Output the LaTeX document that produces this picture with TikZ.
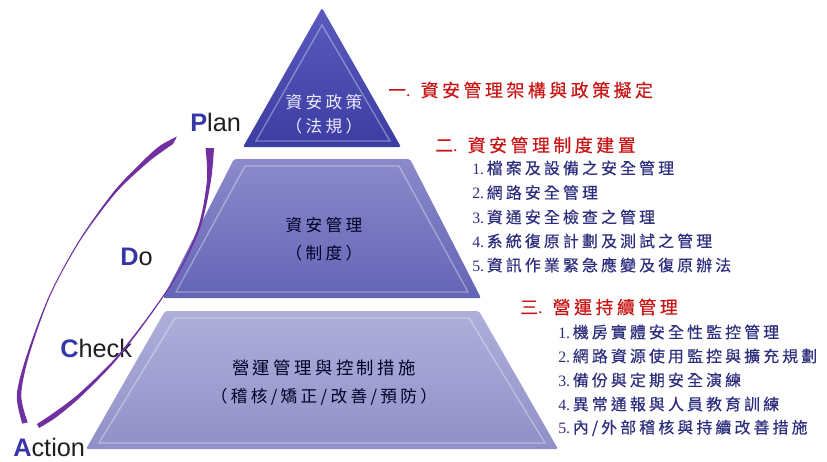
\documentclass[tikz,border=0pt]{standalone}
\usepackage{fontspec}
\setmainfont{Liberation Serif}
\setsansfont{Liberation Sans}
\newfontfamily\cjk{Noto Sans CJK TC}[LetterSpace=20]
\newfontfamily\cjkb{Noto Sans CJK TC}[LetterSpace=20,FakeBold=0.5]
\definecolor{topA}{HTML}{5A5ABF}
\definecolor{topB}{HTML}{3C3CA2}
\definecolor{midA}{HTML}{8A8ACB}
\definecolor{midB}{HTML}{6464B6}
\definecolor{botA}{HTML}{AFAFDB}
\definecolor{botB}{HTML}{9090C8}
\definecolor{pblue}{HTML}{3636A6}
\definecolor{hred}{HTML}{C81414}
\definecolor{inavy}{HTML}{2E2E7E}
\definecolor{arc}{HTML}{7030A0}
\tikzset{
  pyrtxt/.style={inner sep=0pt, align=center, font=\fontsize{12.5}{15}\cjk},
  head/.style={anchor=west, inner sep=0pt, text=hred, font=\fontsize{13.4}{16}\cjkb},
  item/.style={anchor=west, inner sep=0pt, text=inavy, font=\fontsize{11.9}{14}\cjkb},
  pdca/.style={anchor=base west, inner sep=0pt, text=black!88, font=\sffamily\fontsize{19}{22}\selectfont},
  bevel/.style={draw=white, draw opacity=0.35, line width=1pt},
}
\newcommand{\Pl}[1]{\textbf{\color{pblue}#1}}
\newcommand{\nm}[1]{{\rmfamily #1}\hspace{2pt}}
\begin{document}
\begin{tikzpicture}[x=0.75pt,y=-0.75pt]
\useasboundingbox (0,0) rectangle (827,461);
% pyramid tiers
\shade[top color=topA, bottom color=topB, rounded corners=1.5pt] (322,8) -- (401,147) -- (243,147) -- cycle;
\draw[bevel] (322,25) -- (390,141) -- (256,141) -- cycle;
\shade[top color=midA, bottom color=midB, rounded corners=1.5pt] (234,159) -- (410,159) -- (481,298) -- (163,298) -- cycle;
\draw[bevel] (245,166) -- (399,166) -- (468,292) -- (176,292) -- cycle;
\shade[top color=botA, bottom color=botB, rounded corners=1.5pt] (165,311) -- (479,311) -- (558,449) -- (86,449) -- cycle;
\draw[bevel] (175,318) -- (469,318) -- (545,443) -- (99,443) -- cycle;
% pyramid texts
\node[pyrtxt, text=white!92!blue] (t1a) at (324,102) {資安政策};
\node[pyrtxt, text=white!92!blue] (t1b) at (324,126) {（法規）};
\node[pyrtxt, text=black!85!blue] (t2a) at (324,225) {資安管理};
\node[pyrtxt, text=black!85!blue] (t2b) at (324,253) {（制度）};
\node[pyrtxt, text=black!85!blue, font=\fontsize{13}{15}\cjk] (t3a) at (324,368) {營運管理與控制措施};
\node[pyrtxt, text=black!85!blue, font=\fontsize{12.5}{15}\cjk] (t3b) at (324,397) {（稽核/矯正/改善/預防）};
% right texts
\node[head] (h1) at (388,90) {一{\rmfamily .} 資安管理架構與政策擬定};
\node[head] (h2) at (435,145) {二{\rmfamily .} 資安管理制度建置};
\node[item] (a1) at (472,168) {\nm{1.}檔案及設備之安全管理};
\node[item] (a2) at (472,192.5) {\nm{2.}網路安全管理};
\node[item] (a3) at (472,217) {\nm{3.}資通安全檢查之管理};
\node[item] (a4) at (472,241) {\nm{4.}系統復原計劃及測試之管理};
\node[item] (a5) at (472,265) {\nm{5.}資訊作業緊急應變及復原辦法};
\node[head] (h3) at (520,307) {三{\rmfamily .} 營運持續管理};
\node[item] (b1) at (558,332) {\nm{1.}機房實體安全性監控管理};
\node[item] (b2) at (558,356) {\nm{2.}網路資源使用監控與擴充規劃};
\node[item] (b3) at (558,380) {\nm{3.}備份與定期安全演練};
\node[item] (b4) at (558,404) {\nm{4.}異常通報與人員教育訓練};
\node[item] (b5) at (558,428) {\nm{5.}內/外部稽核與持續改善措施};
% PDCA labels
\node[pdca] (plan) at (190,131) {\Pl{P}lan};
\node[pdca] (do) at (120,265) {\Pl{D}o};
\node[pdca] (check) at (60,357) {\Pl{C}heck};
\node[pdca] (action) at (13,456.5) {\Pl{A}ction};
% PDCA swooshes
\fill[arc] plot[smooth] coordinates {(22.3,423.6) (16.8,394.9) (26.9,354.6) (49.5,294.8) (79.5,239.7) (114.1,191.2) (143.5,160.4) (160.2,145.6) (177,136.5)}
  -- plot[smooth] coordinates {(173,144) (163.8,150.4) (146.5,163.6) (115.9,192.8) (80.5,240.3) (50.5,295.2) (29.1,355.4) (21.2,395.1) (27.7,422.4)} -- cycle;
\fill[arc] plot[smooth] coordinates {(214,148) (211.0,180.3) (201.1,225.4) (180.5,270.3) (150.5,315.4) (115.8,360.7) (81.2,396.3) (56.5,417.0) (39.2,427.9)}
  -- plot[smooth] coordinates {(36.8,424.1) (53.5,413.0) (78.8,393.7) (114.2,359.3) (149.5,314.6) (179.5,269.7) (198.9,224.6) (207.0,179.7) (205.5,148)} -- cycle;
\end{tikzpicture}
\end{document}
